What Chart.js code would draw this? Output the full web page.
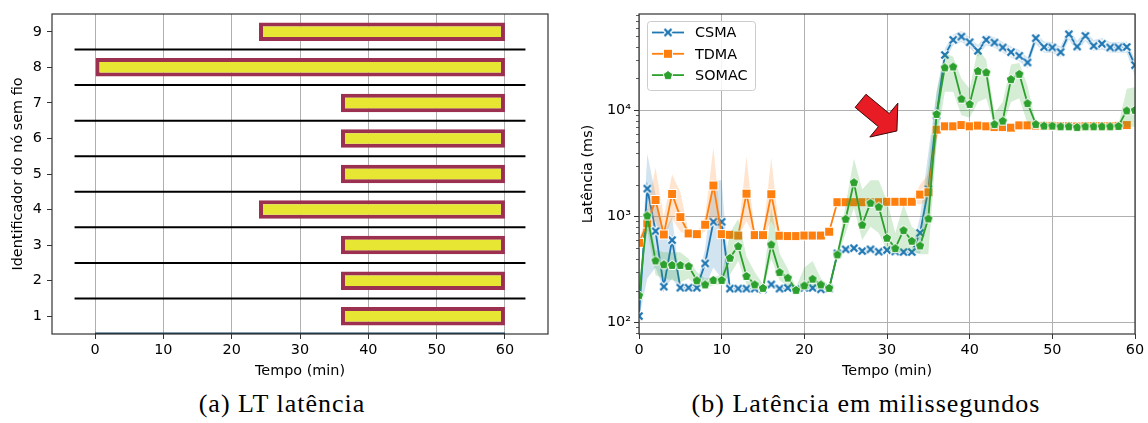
<!DOCTYPE html>
<html>
<head>
<meta charset="utf-8">
<script src="https://cdn.jsdelivr.net/npm/chart.js@4.4.1/dist/chart.umd.min.js"></script>
<style>
  body { margin: 0; background: #fff; }
  #wrap { position: relative; width: 1148px; height: 423px; overflow: hidden; }
  canvas { position: absolute; top: 0; }
  #lt { left: 0; }
  #lat { left: 570px; }
  .cap {
    position: absolute; top: 389px; line-height: 30px;
    font-family: "Liberation Serif", serif; font-size: 26px; letter-spacing: 1px;
    white-space: nowrap; transform: translateX(-50%); color: #000;
  }
</style>
</head>
<body>
<div id="wrap">
  <canvas id="lt" width="560" height="385"></canvas>
  <canvas id="lat" width="578" height="385"></canvas>
  <div class="cap" style="left:282px">(a) LT latência</div>
  <div class="cap" style="left:866px">(b) Latência em milissegundos</div>
</div>
<script>
// ---- (a) active time of each wireless node ----
const nodes = [1, 2, 3, 4, 5, 6, 7, 8, 9];
const nodeStart = [36, 36, 36, 24, 36, 36, 36, 0, 24];
const nodeEnd = [60, 60, 60, 60, 60, 60, 60, 60, 60];
const rowBreaks = [1.5, 2.5, 3.5, 4.5, 5.5, 6.5, 7.5, 8.5];
const rowBreakSpan = [-3, 63];
const baseSpan = [0, 60];
const ltXTicks = [0, 10, 20, 30, 40, 50, 60];

// ---- (b) latency (ms) per minute ----
const minutes = [0, 1, 2, 3, 4, 5, 6, 7, 8, 9, 10, 11, 12, 13, 14, 15, 16, 17, 18, 19, 20,
  21, 22, 23, 24, 25, 26, 27, 28, 29, 30, 31, 32, 33, 34, 35, 36, 37, 38, 39, 40,
  41, 42, 43, 44, 45, 46, 47, 48, 49, 50, 51, 52, 53, 54, 55, 56, 57, 58, 59, 60];

const csma = [115, 1830, 728, 218, 599, 213, 213, 213, 361, 891, 891, 209, 209, 209, 209, 206,
  229, 209, 212, 206, 212, 212, 206, 209, 449, 490, 503, 472, 490, 466, 482, 468, 462, 462,
  701, 1800, 9000, 33300, 46200, 49600, 43900, 36400, 46200, 43600, 39200, 35400, 32700,
  28300, 47900, 39500, 39200, 35400, 52200, 40000, 50400, 40600, 42400, 39200, 39200, 39600, 26700];
const csmaLo = [108, 260, 330, 205, 260, 203, 203, 203, 220, 330, 260, 202, 202, 202, 202, 200,
  212, 202, 204, 200, 204, 204, 200, 202, 430, 470, 482, 455, 470, 450, 465, 452, 446, 446,
  450, 1000, 5000, 29000, 41000, 44000, 39000, 32000, 41000, 39000, 35000, 31500, 29000,
  25000, 42500, 35000, 35000, 31500, 46500, 35500, 45000, 36000, 37500, 35000, 35000, 35000, 21000];
const csmaHi = [122, 3900, 1600, 700, 1000, 230, 225, 225, 500, 2200, 2200, 216, 216, 216, 216, 213,
  250, 216, 220, 212, 220, 220, 212, 216, 470, 510, 525, 490, 510, 485, 500, 485, 478, 478,
  1000, 4000, 15000, 38000, 52000, 56000, 49000, 41000, 52000, 49000, 44000, 40000, 37000,
  31500, 54000, 44500, 44000, 40000, 59000, 45000, 57000, 46000, 48000, 44000, 44000, 44500, 30000];

const tdma = [565, 860, 1430, 677, 1630, 987, 692, 682, 836, 1960, 682, 672, 661, 1640, 667, 667,
  1620, 658, 654, 654, 661, 661, 661, 718, 1365, 1365, 1365, 1365, 1365, 1365, 1375, 1375, 1375, 1375,
  1610, 1690, 6580, 7080, 7080, 7280, 7080, 7190, 7080, 6970, 6970, 6870, 7230, 7230, 7190,
  7150, 7150, 7100, 7100, 7050, 7100, 7100, 7100, 7100, 7150, 7280, null];
const tdmaLo = [550, 700, 900, 600, 950, 720, 665, 660, 720, 1000, 655, 650, 640, 900, 645, 645,
  900, 640, 636, 636, 640, 640, 640, 680, 1330, 1330, 1330, 1330, 1330, 1330, 1340, 1340, 1340, 1340,
  1300, 1400, 5900, 6800, 6800, 7000, 6800, 6900, 6800, 6700, 6700, 6600, 6950, 6950, 6900,
  6850, 6850, 6800, 6800, 6750, 6800, 6800, 6800, 6800, 6850, 7000, null];
const tdmaHi = [580, 1150, 2900, 1000, 2500, 1700, 720, 705, 1000, 4500, 710, 695, 685, 3700, 690, 690,
  3600, 678, 672, 672, 682, 682, 682, 760, 1400, 1400, 1400, 1400, 1400, 1400, 1410, 1410, 1410, 1410,
  2000, 2500, 7000, 7350, 7350, 7550, 7350, 7450, 7350, 7250, 7250, 7150, 7500, 7500, 7450,
  7450, 7450, 7400, 7500, 7350, 7400, 7400, 7400, 7400, 7450, 7550, null];

const somac = [181, 1020, 385, 354, 349, 349, 341, 250, 229, 252, 252, 408, 526, 275, 229, 212,
  545, 299, 265, 203, 224, 259, 229, 212, 439, 951, 2100, 836, 1345, 1235, 630, 503, 743, 590,
  533, 957, 9250, 25400, 25900, 12900, 11500, 23600, 22900, 7430, 8000, 19700, 22100, 11700,
  7430, 7180, 7180, 7080, 7080, 6970, 7080, 7080, 7080, 7080, 7130, 10000, 10100];
const somacLo = [175, 750, 280, 260, 250, 240, 260, 220, 210, 225, 230, 280, 380, 230, 210, 200,
  400, 250, 220, 195, 205, 220, 205, 205, 410, 700, 1200, 600, 800, 700, 480, 450, 480, 470,
  440, 440, 5000, 15000, 15000, 9000, 8500, 12000, 13000, 7000, 7000, 12000, 13000, 7500,
  7100, 6950, 6950, 6850, 6850, 6750, 6850, 6850, 6850, 6850, 6900, 7000, 7000];
const somacHi = [188, 1200, 480, 460, 460, 460, 400, 300, 260, 270, 280, 700, 950, 420, 300, 230,
  1200, 450, 320, 215, 330, 380, 260, 222, 470, 1300, 3500, 1800, 2200, 2200, 1400, 700, 1300, 800,
  700, 3000, 15000, 35000, 32000, 20000, 16000, 38000, 30000, 9500, 12000, 27000, 28000, 17000,
  7700, 7400, 7400, 7300, 7300, 7200, 7300, 7300, 7300, 7300, 7350, 16000, 16500];

const latXTicks = [0, 10, 20, 30, 40, 50, 60];
const decades = [100, 1000, 10000];
const decadeLabels = ['10²', '10³', '10⁴'];
const minorTicks = [80, 90, 200, 300, 400, 500, 600, 700, 800, 900,
  2000, 3000, 4000, 5000, 6000, 7000, 8000, 9000,
  20000, 30000, 40000, 50000, 60000, 70000, 80000];
// red arrow: tail and tip in (minute, ms)
const arrowTail = { x: 26.8, y: 12300 };
const arrowTip = { x: 31.2, y: 6400 };

Chart.defaults.font.family = '"DejaVu Sans", sans-serif';
Chart.defaults.font.size = 14.4;
Chart.defaults.color = '#000';

const GRID = '#b0b0b0';
const TICK = '#333';

// marker bitmaps (white edged, like seaborn)
function marker(draw) {
  const c = document.createElement('canvas');
  c.width = c.height = 12;
  draw(c.getContext('2d'), 6);
  return c;
}
const xMark = marker((g, m) => {
  [['#fff', 4.6], ['#1f77b4', 2.4]].forEach(([col, w]) => {
    g.strokeStyle = col; g.lineWidth = w;
    g.beginPath();
    g.moveTo(m - 3.5, m - 3.5); g.lineTo(m + 3.5, m + 3.5);
    g.moveTo(m + 3.5, m - 3.5); g.lineTo(m - 3.5, m + 3.5);
    g.stroke();
  });
});
const sqMark = marker((g, m) => {
  g.fillStyle = '#ff7f0e'; g.strokeStyle = '#fff'; g.lineWidth = 1;
  g.fillRect(m - 4.5, m - 4.5, 9, 9); g.strokeRect(m - 4.5, m - 4.5, 9, 9);
});
const pentMark = marker((g, m) => {
  g.beginPath();
  for (let k = 0; k < 5; k++) {
    const a = -Math.PI / 2 + k * 2 * Math.PI / 5;
    g.lineTo(m + 5 * Math.cos(a), m + 0.4 + 5 * Math.sin(a));
  }
  g.closePath();
  g.fillStyle = '#2ca02c'; g.fill();
  g.strokeStyle = '#fff'; g.lineWidth = 1; g.stroke();
});

const series = [
  { name: 'CSMA', vals: csma, lo: csmaLo, hi: csmaHi, color: '#1f77b4', band: 'rgba(31,119,180,0.2)', mark: xMark },
  { name: 'TDMA', vals: tdma, lo: tdmaLo, hi: tdmaHi, color: '#ff7f0e', band: 'rgba(255,127,14,0.2)', mark: sqMark },
  { name: 'SOMAC', vals: somac, lo: somacLo, hi: somacHi, color: '#2ca02c', band: 'rgba(44,160,44,0.2)', mark: pentMark },
];

const pts = vals => vals.map((v, i) => ({ x: minutes[i], y: v }));

// box around the plot area
const framePlugin = {
  id: 'frame',
  afterDatasetsDraw(chart) {
    const g = chart.ctx, a = chart.chartArea;
    g.save();
    g.strokeStyle = TICK; g.lineWidth = 1.2;
    g.strokeRect(a.left, a.top, a.right - a.left, a.bottom - a.top);
    g.restore();
  }
};

// ---------- (a) ----------
const separatorPts = rowBreaks.flatMap(y => [
  { x: rowBreakSpan[0], y }, { x: rowBreakSpan[1], y }, { x: rowBreakSpan[1], y: null }
]);

new Chart(document.getElementById('lt'), {
  type: 'bar',
  data: {
    datasets: [
      {
        type: 'bar', indexAxis: 'y',
        data: nodes.map((n, i) => ({ x: [nodeStart[i], nodeEnd[i]], y: n })),
        backgroundColor: '#e6e633', borderColor: '#9b3050', borderWidth: 4, borderSkipped: false,
        barPercentage: 0.52, categoryPercentage: 1, order: 3
      },
      {
        type: 'line', data: separatorPts, borderColor: '#000', borderWidth: 2,
        pointRadius: 0, spanGaps: false, order: 2
      },
      {
        type: 'line', data: baseSpan.map(x => ({ x, y: 0.5 })), borderColor: '#123c5c',
        borderWidth: 3, pointRadius: 0, clip: 0, order: 1
      }
    ]
  },
  options: {
    responsive: false, animation: false, events: [],
    layout: { padding: { top: 14, right: 12, left: 0, bottom: 0 } },
    plugins: { legend: { display: false }, tooltip: { enabled: false } },
    scales: {
      x: {
        type: 'linear', min: -6.3, max: 66.3, z: 1, offset: false,
        afterBuildTicks: s => { s.ticks = ltXTicks.map(v => ({ value: v })); },
        afterFit: s => { s.height = 51; },
        grid: { color: GRID, tickColor: TICK, tickLength: 5, offset: false },
        border: { display: false },
        ticks: { padding: 3, autoSkip: false, maxRotation: 0 },
        title: { display: true, text: 'Tempo (min)', padding: { top: 0, bottom: 5 } }
      },
      y: {
        type: 'linear', min: 0.5, max: 9.5, offset: false,
        afterBuildTicks: s => { s.ticks = nodes.map(v => ({ value: v })); },
        afterFit: s => { s.width = 52; },
        grid: { drawOnChartArea: false, tickColor: TICK, tickLength: 5, offset: false },
        border: { display: false },
        ticks: { padding: 5, autoSkip: false },
        title: { display: true, text: 'Identificador do nó sem fio', padding: { top: 10, bottom: 0 } }
      }
    }
  },
  plugins: [framePlugin]
});

// ---------- (b) ----------
const latDatasets = [];
series.forEach((s, k) => {
  const ord = 3 - k;
  latDatasets.push(
    { data: pts(s.hi), fill: '+1', backgroundColor: s.band, borderColor: 'rgba(0,0,0,0)',
      borderWidth: 0, pointRadius: 0, order: ord * 2 + 0.5 },
    { data: pts(s.lo), fill: false, borderColor: 'rgba(0,0,0,0)', borderWidth: 0,
      pointRadius: 0, order: ord * 2 + 0.5 },
    { label: s.name, data: pts(s.vals), borderColor: s.color, borderWidth: 1.8,
      pointStyle: s.mark, pointRadius: 5, fill: false, order: ord * 2 }
  );
});

const extrasPlugin = {
  id: 'latExtras',
  afterDraw(chart) {
    const g = chart.ctx, a = chart.chartArea;
    const xs = chart.scales.x, ys = chart.scales.y;
    g.save();

    // minor log ticks
    g.strokeStyle = TICK; g.lineWidth = 0.8;
    minorTicks.forEach(v => {
      const y = Math.round(ys.getPixelForValue(v)) + 0.5;
      g.beginPath(); g.moveTo(a.left - 3, y); g.lineTo(a.left, y); g.stroke();
    });

    // arrow
    const p0 = { x: xs.getPixelForValue(arrowTail.x), y: ys.getPixelForValue(arrowTail.y) };
    const p1 = { x: xs.getPixelForValue(arrowTip.x), y: ys.getPixelForValue(arrowTip.y) };
    const dx = p1.x - p0.x, dy = p1.y - p0.y, len = Math.hypot(dx, dy);
    const ux = dx / len, uy = dy / len, nx = -uy, ny = ux;
    const hl = 17, hw = 22, sw = 8.5;
    const bx = p1.x - ux * hl, by = p1.y - uy * hl;
    g.beginPath();
    g.moveTo(p0.x + nx * sw, p0.y + ny * sw);
    g.lineTo(bx + nx * sw, by + ny * sw);
    g.lineTo(bx + nx * hw, by + ny * hw);
    g.lineTo(p1.x, p1.y);
    g.lineTo(bx - nx * hw, by - ny * hw);
    g.lineTo(bx - nx * sw, by - ny * sw);
    g.lineTo(p0.x - nx * sw, p0.y - ny * sw);
    g.closePath();
    g.fillStyle = '#e81c24'; g.fill();
    g.strokeStyle = '#3a0a0a'; g.lineWidth = 1; g.stroke();

    // legend
    const x0 = a.left + 8, y0 = a.top + 7, w = 108, h = 69;
    g.beginPath();
    g.roundRect(x0 + 0.5, y0 + 0.5, w, h, 3);
    g.fillStyle = 'rgba(255,255,255,0.85)'; g.fill();
    g.strokeStyle = '#cccccc'; g.lineWidth = 1; g.stroke();
    g.font = '14.4px "DejaVu Sans"'; g.textBaseline = 'middle';
    series.forEach((s, k) => {
      const cy = y0 + 11.5 + k * 21.3;
      g.strokeStyle = s.color; g.lineWidth = 1.8;
      g.beginPath(); g.moveTo(x0 + 5, cy); g.lineTo(x0 + 37, cy); g.stroke();
      g.drawImage(s.mark, x0 + 21 - 6, cy - 6);
      g.fillStyle = '#000';
      g.fillText(s.name, x0 + 48, cy + 1);
    });
    g.restore();
  }
};

new Chart(document.getElementById('lat'), {
  type: 'line',
  data: { datasets: latDatasets },
  options: {
    responsive: false, animation: false, events: [],
    layout: { padding: { top: 14, right: 13, left: 0, bottom: 0 } },
    plugins: { legend: { display: false }, tooltip: { enabled: false } },
    scales: {
      x: {
        type: 'linear', min: 0, max: 60,
        afterBuildTicks: s => { s.ticks = latXTicks.map(v => ({ value: v })); },
        afterFit: s => { s.height = 51; },
        grid: { color: GRID, tickColor: TICK, tickLength: 5 },
        border: { display: false },
        ticks: { padding: 3, autoSkip: false, maxRotation: 0 },
        title: { display: true, text: 'Tempo (min)', padding: { top: 0, bottom: 5 } }
      },
      y: {
        type: 'logarithmic', min: 78, max: 81000,
        afterBuildTicks: s => { s.ticks = decades.map(v => ({ value: v })); },
        afterFit: s => { s.width = 69; },
        grid: { color: GRID, tickColor: TICK, tickLength: 5 },
        border: { display: false },
        ticks: { padding: 3, autoSkip: false, callback: v => decadeLabels[decades.indexOf(v)] },
        title: { display: true, text: 'Latência (ms)', padding: { top: 10, bottom: 0 } }
      }
    }
  },
  plugins: [framePlugin, extrasPlugin]
});
</script>
</body>
</html>
